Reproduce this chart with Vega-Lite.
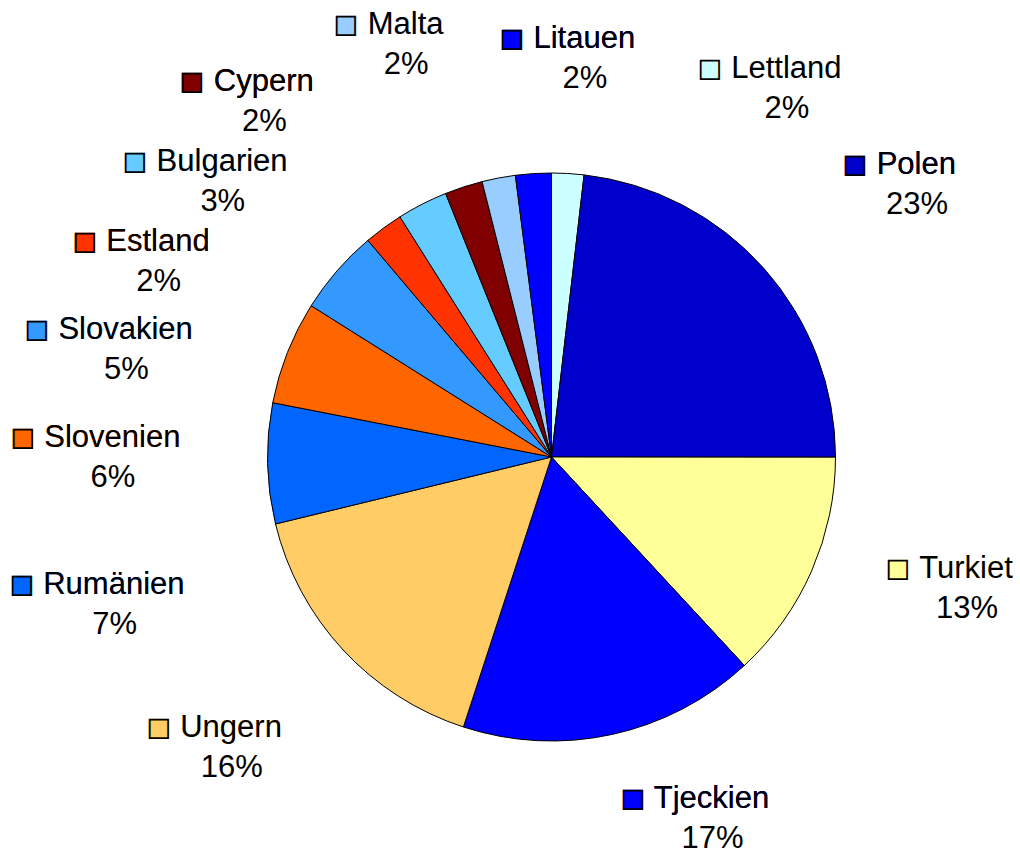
{
  "$schema": "https://vega.github.io/schema/vega-lite/v6.json",
  "width": 937,
  "height": 800,
  "autosize": {"type": "none"},
  "padding": {"left": 83, "top": 57, "right": 0, "bottom": 0},
  "background": "white",
  "config": {"view": {"stroke": null}},
  "data": {
    "values": [
      {"land": "Lettland", "v": 1.83, "pct": "2%", "ord": 1},
      {"land": "Polen", "v": 23.18, "pct": "23%", "ord": 2},
      {"land": "Turkiet", "v": 13.11, "pct": "13%", "ord": 3},
      {"land": "Tjeckien", "v": 16.90, "pct": "17%", "ord": 4},
      {"land": "Ungern", "v": 16.19, "pct": "16%", "ord": 5},
      {"land": "Rumänien", "v": 6.85, "pct": "7%", "ord": 6},
      {"land": "Slovenien", "v": 5.88, "pct": "6%", "ord": 7},
      {"land": "Slovakien", "v": 4.87, "pct": "5%", "ord": 8},
      {"land": "Estland", "v": 2.23, "pct": "2%", "ord": 9},
      {"land": "Bulgarien", "v": 2.88, "pct": "3%", "ord": 10},
      {"land": "Cypern", "v": 2.15, "pct": "2%", "ord": 11},
      {"land": "Malta", "v": 1.90, "pct": "2%", "ord": 12},
      {"land": "Litauen", "v": 2.03, "pct": "2%", "ord": 13}
    ]
  },
  "layer": [
    {
      "mark": {"type": "arc", "outerRadius": 284, "stroke": "black", "strokeWidth": 1},
      "encoding": {
        "theta": {"field": "v", "type": "quantitative", "stack": true},
        "order": {"field": "ord", "type": "quantitative"},
        "color": {
          "field": "land",
          "type": "nominal",
          "legend": null,
          "scale": {
            "domain": ["Lettland", "Polen", "Turkiet", "Tjeckien", "Ungern", "Rumänien", "Slovenien", "Slovakien", "Estland", "Bulgarien", "Cypern", "Malta", "Litauen"],
            "range": ["#CCFFFF", "#0000CC", "#FFFF99", "#0000FF", "#FFCC66", "#0066FF", "#FF6600", "#3399FF", "#FF3300", "#66CCFF", "#800000", "#99CCFF", "#0000FF"]
          }
        }
      }
    },
    {
      "transform": [
        {"stack": "v", "groupby": [], "sort": [{"field": "ord", "order": "ascending"}], "as": ["s0", "s1"]},
        {"fold": ["s0", "s1"], "as": ["edge", "pos"]},
        {"aggregate": [{"op": "mean", "field": "pos", "as": "mid"}], "groupby": ["land", "pct"]}
      ],
      "encoding": {
        "theta": {
          "field": "mid",
          "type": "quantitative",
          "stack": null,
          "scale": {
            "type": "linear",
            "zero": false,
            "nice": false,
            "domain": [0.915, 13.42, 31.565, 46.57, 63.115, 74.635, 81.0, 86.375, 89.925, 92.48, 94.995, 97.02, 98.985],
            "range": [0.53913, 0.90914, 1.88391, 2.75413, 3.99873, 4.39928, 4.71466, 4.95674, 5.16391, 5.39254, 5.58226, 5.91562, 6.33188]
          }
        },
        "radius": {
          "field": "mid",
          "type": "quantitative",
          "scale": {
            "type": "linear",
            "zero": false,
            "nice": false,
            "domain": [0.915, 13.42, 31.565, 46.57, 63.115, 74.635, 81.0, 86.375, 89.925, 92.48, 94.995, 97.02, 98.985],
            "range": [431.5, 445.5, 422.0, 389.0, 441.5, 474.0, 452.5, 452.6, 452.1, 440.8, 466.7, 443.1, 400.5]
          }
        }
      },
      "layer": [
        {
          "mark": {"type": "text", "font": "Liberation Sans", "fontSize": 31, "align": "center", "baseline": "middle", "dx": -4, "dy": -18, "text": {"expr": "'\u25fc ' + datum.land"}},
          "encoding": {
            "color": {"field": "land", "type": "nominal", "legend": null}
          }
        },
        {
          "mark": {"type": "text", "font": "Liberation Sans", "fontSize": 31, "align": "center", "baseline": "middle", "dx": -4, "dy": -18, "color": "black", "text": {"expr": "'\u25fb ' + datum.land"}},
          "encoding": {}
        },
        {
          "mark": {"type": "text", "font": "Liberation Sans", "fontSize": 31, "align": "center", "baseline": "middle", "dx": 14, "dy": 22, "color": "black"},
          "encoding": {
            "text": {"field": "pct", "type": "nominal"}
          }
        }
      ]
    }
  ],
  "resolve": {"scale": {"theta": "independent", "radius": "independent"}}
}
